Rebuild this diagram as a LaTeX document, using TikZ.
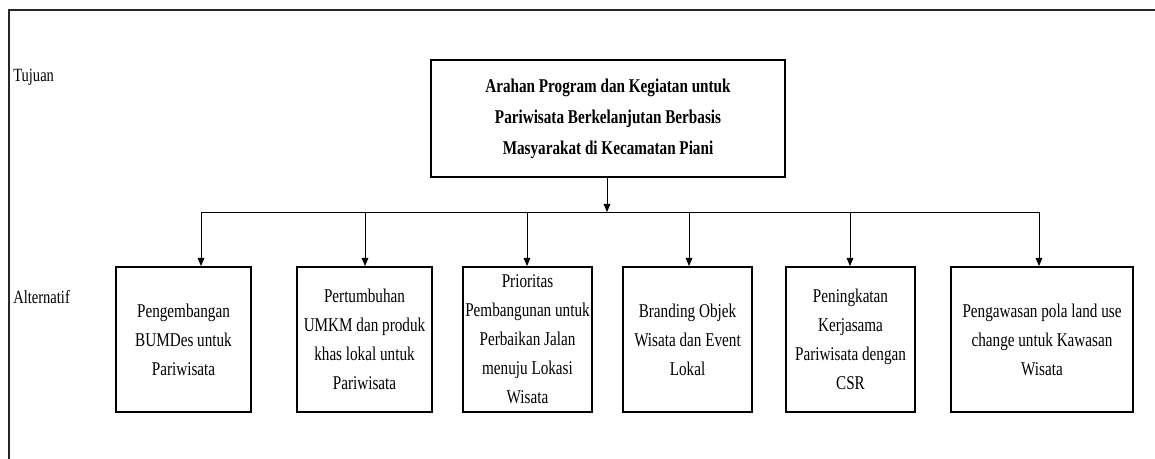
\documentclass[tikz,border=0pt]{standalone}
\usepackage{fontspec}
\setmainfont{Liberation Serif}[FakeStretch=0.78]
\usetikzlibrary{arrows.meta}

\begin{document}
\begin{tikzpicture}[x=0.75pt, y=-0.75pt, >={Triangle[length=6pt, width=5pt]},
    goal/.style = {draw, line width=1.5pt, align=center, inner sep=0pt, minimum width=265.5pt, minimum height=87.75pt, font=\fontsize{14.6}{23.25}\selectfont\bfseries},
    alt/.style = {draw, line width=1.5pt, align=center, inner sep=0pt, minimum height=108.75pt, font=\fontsize{14.6}{21.75}\selectfont},
    lvl/.style = {anchor=west, inner sep=0pt, font=\fontsize{14}{16}\selectfont},
    link/.style = {line width=0.6pt}]
    \useasboundingbox (0,0) rectangle (1155,459);
    \draw[line width=1.5pt, black!85] (9,459) -- (9,10) -- (1155,10);

    \node[lvl] (tujuan) at (13,77) {Tujuan};
    \node[lvl] (alternatif) at (13,297) {Alternatif};

    \node[goal] (goal) at (608,118.5) {Arahan Program dan Kegiatan untuk\\Pariwisata Berkelanjutan Berbasis\\Masyarakat di Kecamatan Piani};

    \node[alt, minimum width=101.25pt] (alt1) at (183.5,339.5) {Pengembangan\\BUMDes untuk\\Pariwisata};
    \node[alt, minimum width=101.25pt] (alt2) at (364.5,339.5) {Pertumbuhan\\UMKM dan produk\\khas lokal untuk\\Pariwisata};
    \node[alt, minimum width=96.75pt] (alt3) at (527.5,339.5) {Prioritas\\Pembangunan untuk\\Perbaikan Jalan\\menuju Lokasi\\Wisata};
    \node[alt, minimum width=96.75pt] (alt4) at (687.5,339.5) {Branding Objek\\Wisata dan Event\\Lokal};
    \node[alt, minimum width=96.75pt] (alt5) at (850.5,339.5) {Peningkatan\\Kerjasama\\Pariwisata dengan\\CSR};
    \node[alt, minimum width=136.5pt] (alt6) at (1042,339.5) {Pengawasan pola land use\\change untuk Kawasan\\Wisata};

    % garis pembagi
    \coordinate (hub) at (607,212);
    \coordinate (bus1) at (201,212);
    \coordinate (bus2) at (365,212);
    \coordinate (bus3) at (527,212);
    \coordinate (bus4) at (689,212);
    \coordinate (bus5) at (850,212);
    \coordinate (bus6) at (1039,212);

    \draw[link, ->] (goal.south -| hub) -- (hub);
    \draw[link] (bus1) -- (bus6);
    \draw[link, ->] (bus1) -- (bus1 |- alt1.north);
    \draw[link, ->] (bus2) -- (bus2 |- alt2.north);
    \draw[link, ->] (bus3) -- (bus3 |- alt3.north);
    \draw[link, ->] (bus4) -- (bus4 |- alt4.north);
    \draw[link, ->] (bus5) -- (bus5 |- alt5.north);
    \draw[link, ->] (bus6) -- (bus6 |- alt6.north);
\end{tikzpicture}
\end{document}
